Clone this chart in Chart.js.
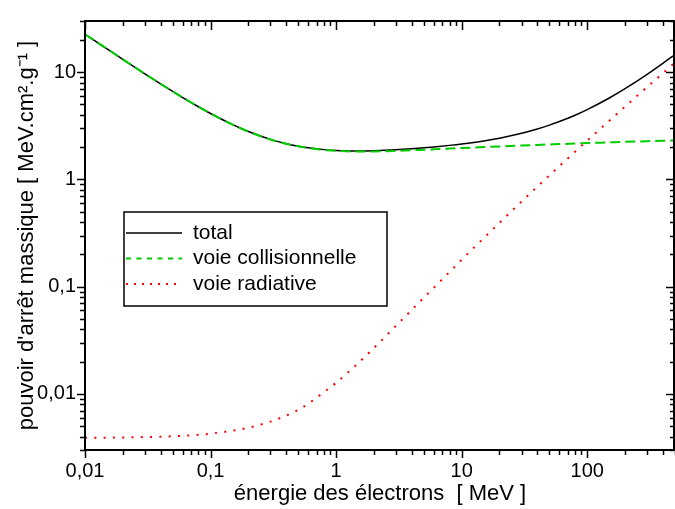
<!DOCTYPE html>
<html>
<head>
<meta charset="utf-8">
<script src="https://cdn.jsdelivr.net/npm/chart.js@4.4.1/dist/chart.umd.min.js"></script>
<style>
  html, body { margin: 0; padding: 0; background: #fff; }
  #wrap { width: 675px; height: 509px; }
</style>
</head>
<body>
<div id="wrap"><canvas id="stopChart" width="675" height="509"></canvas></div>
<script>
// electron stopping power in water, MeV.cm2/g
const energy = [0.01, 0.015, 0.02, 0.03, 0.04, 0.05, 0.06, 0.08, 0.1, 0.15, 0.2, 0.3, 0.4, 0.5, 0.6, 0.8,
                1, 1.5, 2, 3, 4, 5, 6, 8, 10, 15, 20, 30, 40, 50, 60, 80, 100, 150, 200, 300, 400, 500];

const totalSP = [22.56, 16.47, 13.17, 9.657, 7.781, 6.607, 5.801, 4.761, 4.119, 3.243, 2.798, 2.361, 2.154, 2.041, 1.971, 1.896,
                 1.862, 1.841, 1.851, 1.889, 1.931, 1.971, 2.008, 2.077, 2.141, 2.287, 2.425, 2.692, 2.952, 3.208, 3.465, 3.971,
                 4.481, 5.745, 7.010, 9.543, 12.08, 14.61];

const collisionSP = [22.56, 16.47, 13.17, 9.653, 7.777, 6.603, 5.797, 4.757, 4.115, 3.238, 2.793, 2.355, 2.148, 2.034, 1.963, 1.886,
                     1.849, 1.822, 1.824, 1.846, 1.870, 1.892, 1.910, 1.940, 1.963, 2.003, 2.031, 2.070, 2.097, 2.118, 2.135, 2.161,
                     2.181, 2.215, 2.240, 2.273, 2.296, 2.314];

const radiativeSP = [0.00390, 0.00391, 0.00393, 0.00396, 0.00399, 0.00403, 0.00407, 0.00416, 0.00426, 0.00455, 0.00484, 0.00552,
                     0.00628, 0.00710, 0.00810, 0.0104, 0.0127, 0.0194, 0.0268, 0.0432, 0.0607, 0.0790, 0.0978, 0.137, 0.178,
                     0.284, 0.394, 0.622, 0.855, 1.09, 1.33, 1.81, 2.30, 3.53, 4.77, 7.27, 9.78, 12.3];

const seriesLabels = ['total', 'voie collisionnelle', 'voie radiative'];

const xMajorTicks = [0.01, 0.1, 1, 10, 100];
const xTickLabels = ['0,01', '0,1', '1', '10', '100'];
const yMajorTicks = [0.01, 0.1, 1, 10];
const yTickLabels = ['0,01', '0,1', '1', '10'];

const FONT = '"Liberation Sans", Arial, sans-serif';

const pts = (ys) => energy.map((e, i) => ({ x: e, y: ys[i] }));

// 1..9 x 10^n inside [min, max]
function logTicks(scale) {
  const out = [];
  for (let p = -4; p <= 4; p++) {
    for (let m = 1; m <= 9; m++) {
      const v = Number((m * Math.pow(10, p)).toPrecision(6));
      if (v >= scale.min - 1e-12 && v <= scale.max + 1e-9) out.push({ value: v });
    }
  }
  scale.ticks = out;
}

function labelFor(majors, labels) {
  return (v) => {
    const i = majors.findIndex(m => Math.abs(m - v) / m < 1e-6);
    return i >= 0 ? labels[i] : '';
  };
}

const isMajor = (v) => Math.abs(Math.log10(v) - Math.round(Math.log10(v))) < 1e-6;

// frame + tick marks (out on bottom/left, in on top/right)
const framePlugin = {
  id: 'frame',
  afterDraw(chart) {
    const { ctx, chartArea: a, scales: { x, y } } = chart;
    ctx.save();
    ctx.strokeStyle = '#000';
    ctx.lineWidth = 2;
    ctx.strokeRect(a.left, a.top, a.right - a.left - 1, a.bottom - a.top);
    ctx.lineWidth = 1.5;
    ctx.beginPath();
    x.ticks.forEach(t => {
      const px = Math.round(x.getPixelForValue(t.value)) + 0.5;
      const maj = isMajor(t.value);
      ctx.moveTo(px, a.bottom); ctx.lineTo(px, a.bottom + (maj ? 8 : 5));
      ctx.moveTo(px, a.top); ctx.lineTo(px, a.top + (maj ? 9 : 5));
    });
    y.ticks.forEach(t => {
      const py = Math.round(y.getPixelForValue(t.value)) + 0.5;
      const maj = isMajor(t.value);
      ctx.moveTo(a.left, py); ctx.lineTo(a.left - (maj ? 8 : 5), py);
      ctx.moveTo(a.right - 1, py); ctx.lineTo(a.right - 1 - (maj ? 8 : 4), py);
    });
    ctx.stroke();
    ctx.restore();
  }
};

// boxed legend inside the plot
const boxLegend = {
  id: 'boxLegend',
  afterDraw(chart) {
    const { ctx } = chart;
    const box = { x: 124, y: 212, w: 263, h: 94 };
    ctx.save();
    ctx.strokeStyle = '#000';
    ctx.lineWidth = 1.5;
    ctx.strokeRect(box.x, box.y, box.w, box.h);
    ctx.font = '21px ' + FONT;
    ctx.textBaseline = 'middle';
    ctx.fillStyle = '#000';
    chart.data.datasets.forEach((ds, i) => {
      const cy = 233 + i * 25.5;
      ctx.beginPath();
      ctx.strokeStyle = ds.borderColor;
      ctx.lineWidth = ds.borderWidth;
      ctx.setLineDash(ds.legendDash || []);
      ctx.moveTo(box.x + 2, cy);
      ctx.lineTo(182, cy);
      ctx.stroke();
      ctx.setLineDash([]);
      ctx.fillText(ds.label, 193, cy);
    });
    ctx.restore();
  }
};

new Chart(document.getElementById('stopChart'), {
  type: 'line',
  data: {
    datasets: [
      {
        label: seriesLabels[0],
        data: pts(totalSP),
        borderColor: '#000000',
        borderWidth: 1.5,
        order: 2,
        legendDash: []
      },
      {
        label: seriesLabels[1],
        data: pts(collisionSP),
        borderColor: '#00cc00',
        borderWidth: 2,
        borderDash: [10, 5],
        order: 1,
        legendDash: [5, 5.5]
      },
      {
        label: seriesLabels[2],
        data: pts(radiativeSP),
        borderColor: '#ff0000',
        borderWidth: 2,
        borderDash: [2, 7.3],
        order: 0,
        legendDash: [2, 6]
      }
    ]
  },
  options: {
    responsive: false,
    animation: false,
    layout: { padding: { top: 14, right: 0, left: 0, bottom: 0 } },
    elements: {
      point: { radius: 0 },
      line: { cubicInterpolationMode: 'monotone', fill: false }
    },
    plugins: {
      legend: { display: false },
      tooltip: { enabled: false }
    },
    scales: {
      x: {
        type: 'logarithmic',
        min: 0.01,
        max: 500,
        grid: { display: false, drawTicks: false },
        border: { display: false },
        afterBuildTicks: logTicks,
        afterFit: (s) => { s.height = 59; s.paddingRight = 0; s.paddingLeft = 0; },
        ticks: {
          autoSkip: false,
          maxRotation: 0,
          padding: 9,
          color: '#000',
          font: { family: FONT, size: 20 },
          callback: labelFor(xMajorTicks, xTickLabels)
        },
        title: {
          display: true,
          text: 'énergie des électrons  [ MeV ]',
          color: '#000',
          font: { family: FONT, size: 22 },
          padding: { top: 0, bottom: 2 }
        }
      },
      y: {
        type: 'logarithmic',
        min: 0.003,
        max: 30,
        grid: { display: false, drawTicks: false },
        border: { display: false },
        afterBuildTicks: logTicks,
        afterFit: (s) => { s.width = 85; },
        ticks: {
          autoSkip: false,
          padding: 9,
          color: '#000',
          font: { family: FONT, size: 20 },
          callback: labelFor(yMajorTicks, yTickLabels)
        },
        title: {
          display: true,
          text: 'pouvoir d\'arrêt massique [ MeV.cm².g⁻¹ ]',
          color: '#000',
          font: { family: FONT, size: 22 },
          padding: { top: 14, bottom: 0 }
        }
      }
    }
  },
  plugins: [framePlugin, boxLegend]
});
</script>
</body>
</html>
